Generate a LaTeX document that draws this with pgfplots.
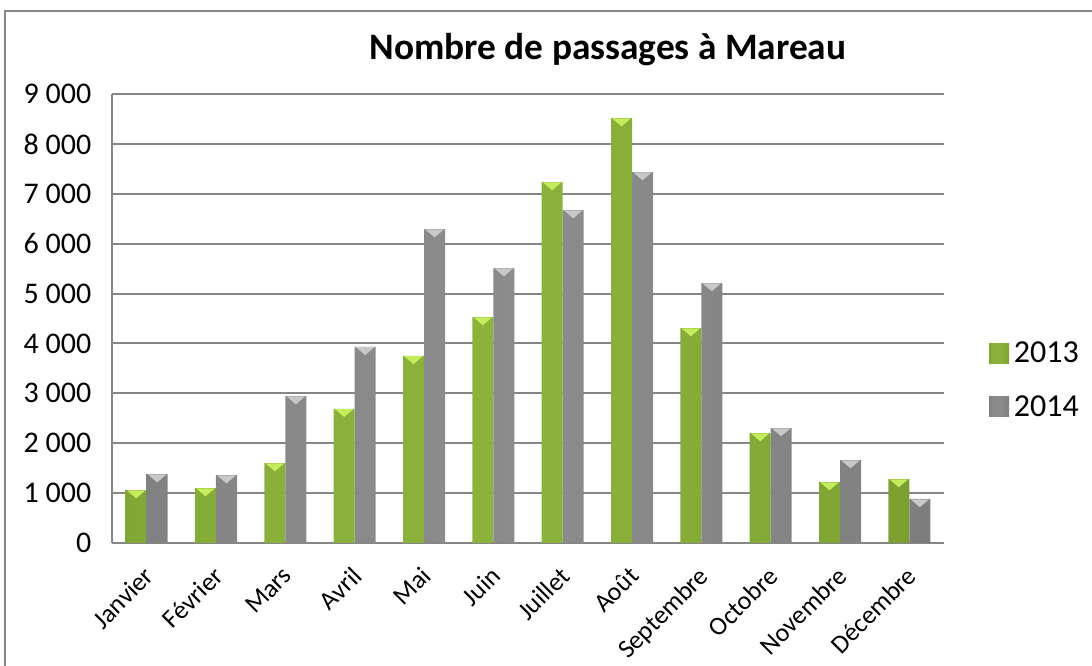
\documentclass[border=0pt]{standalone}
\usepackage{fontspec}
\setmainfont{Carlito}
\usepackage{pgfplots}
\pgfplotsset{compat=1.18}
\usetikzlibrary{shapes.geometric}
\definecolor{gridgray}{HTML}{868686}
\definecolor{gT}{HTML}{C4EC5C}
\definecolor{sT}{HTML}{C8C8C8}
\pgfdeclarehorizontalshading{greenbar}{100bp}{%
  color(0bp)=(rgb,255:red,104;green,138;blue,34);
  color(32bp)=(rgb,255:red,135;green,175;blue,58);
  color(50bp)=(rgb,255:red,140;green,180;blue,60);
  color(70bp)=(rgb,255:red,128;green,166;blue,52);
  color(100bp)=(rgb,255:red,98;green,130;blue,30)}
\pgfdeclarehorizontalshading{graybar}{100bp}{%
  color(0bp)=(rgb,255:red,104;green,104;blue,104);
  color(32bp)=(rgb,255:red,136;green,136;blue,136);
  color(50bp)=(rgb,255:red,140;green,140;blue,140);
  color(70bp)=(rgb,255:red,130;green,130;blue,130);
  color(100bp)=(rgb,255:red,98;green,98;blue,98)}
\begin{document}
\begin{tikzpicture}
\path[use as bounding box] (-84pt,-92.25pt) rectangle (735pt,407.25pt);
\draw[gridgray, line width=1.2pt] (-80.25pt,-200pt) -- (-80.25pt,399pt) -- (800pt,399pt);
\begin{axis}[
  at={(0pt,0pt)}, anchor=south west,
  scale only axis, width=624pt, height=336.75pt,
  ybar=0pt, bar width=15.75pt,
  xmin=-0.5, xmax=11.5, ymin=0, ymax=9000,
  xtick={0,...,11},
  xticklabels={Janvier,Février,Mars,Avril,Mai,Juin,Juillet,Août,Septembre,Octobre,Novembre,Décembre},
  ytick={0,1000,2000,3000,4000,5000,6000,7000,8000,9000},
  yticklabels={0,{1 000},{2 000},{3 000},{4 000},{5 000},{6 000},{7 000},{8 000},{9 000}},
  ymajorgrids, grid style={gridgray, line width=1.5pt},
  axis x line*=bottom, axis y line*=left,
  axis line style={gridgray, line width=1.5pt, -},
  major tick length=0pt,
  xticklabel style={font=\fontsize{19.5}{22}\selectfont, xshift=-3pt, yshift=-15pt, rotate=45, anchor=north east, inner sep=1pt},
  yticklabel style={font=\fontsize{22.5}{26}\selectfont, xshift=-12pt},
  legend style={at={(axis description cs:1.054,0.363)}, anchor=west, draw=none, fill=none,
    font=\fontsize{24}{28}\selectfont, row sep=16pt, inner sep=0pt,
    nodes={inner sep=3.5pt}},
  legend cell align=left,
  legend image code/.code={\path[#1, draw=none] (0pt,-7.5pt) rectangle (15pt,7.5pt);},
  nodes near coords={},
  every node near coord/.append style={isosceles triangle, shape border rotate=-90,
    isosceles triangle stretches, minimum width=14pt, minimum height=6pt, inner sep=0pt, anchor=north},
]
\addplot[draw=none, shading=greenbar,
  every node near coord/.append style={fill=gT}]
  coordinates {(0,1060) (1,1100) (2,1600) (3,2690) (4,3750) (5,4530) (6,7235) (7,8517) (8,4308) (9,2204) (10,1222) (11,1282)};
\addplot[draw=none, shading=graybar,
  every node near coord/.append style={fill=sT}]
  coordinates {(0,1380) (1,1360) (2,2945) (3,3930) (4,6290) (5,5510) (6,6673) (7,7435) (8,5210) (9,2305) (10,1663) (11,882)};
\legend{2013,2014}
\end{axis}
\node[font=\fontsize{28}{33}\selectfont\bfseries] at (372pt,369.75pt) {Nombre de passages à Mareau};
\end{tikzpicture}
\end{document}
